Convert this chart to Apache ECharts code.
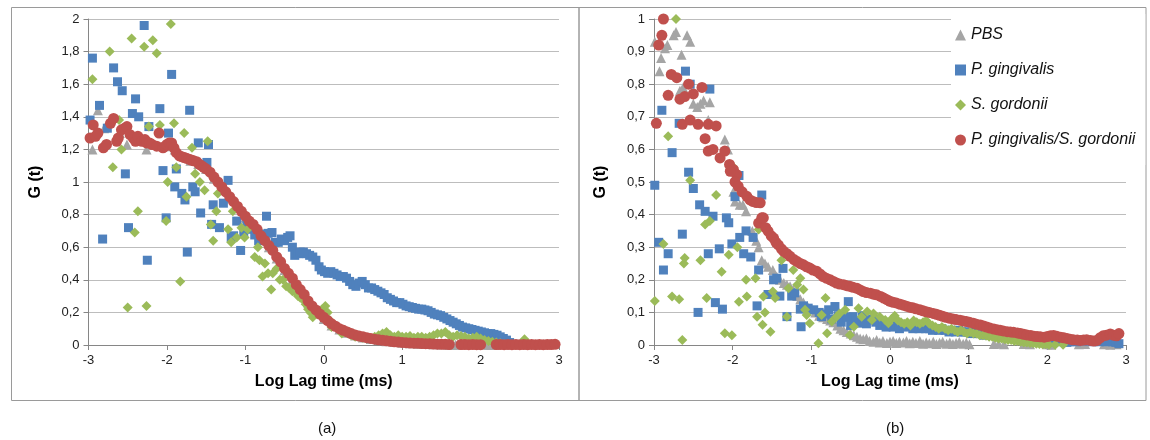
<!DOCTYPE html>
<html>
<head>
<meta charset="utf-8">
<script src="https://cdn.jsdelivr.net/npm/echarts@6/dist/echarts.min.js"></script>
<style>
html,body{margin:0;padding:0;background:#fff;}
#c{width:1150px;height:440px;}
</style>
</head>
<body>
<div id="c"></div>
<script>
// Series names
const seriesNames = ['PBS', 'P. gingivalis', 'S. gordonii', 'P. gingivalis/S. gordonii'];

// ---------- Panel (a): [log lag time, G(t)] ----------
const pbsA = [[-2.95,1.20],[-2.88,1.44],[-2.80,1.33],[-2.60,1.30],[-2.51,1.23],[-2.26,1.20],
[-2.0,1.22],[-1.9,1.2],[-1.8,1.16],[-1.7,1.13],[-1.6,1.11],[-1.5,1.08],[-1.4,1.02],[-1.3,0.96],[-1.2,0.9],[-1.1,0.84],[-1.0,0.78],[-0.9,0.73],[-0.8,0.66],[-0.7,0.6],[-0.6,0.53],[-0.5,0.46],[-0.4,0.4],[-0.3,0.33],[-0.2,0.26],[-0.1,0.21],[0.0,0.16],[0.1,0.12],[0.2,0.095],[0.3,0.075],[0.4,0.058],[0.5,0.046],[0.6,0.037],[0.7,0.03],[0.8,0.023],[0.9,0.018],[1.0,0.014],[1.1,0.01],[1.2,0.008],[1.3,0.006],[1.4,0.004],[1.5,0.003],[1.6,0.002],[1.64,0.001],[1.68,0.002],[1.72,0.001],[2.06,0.001],[2.10,0.002],[2.14,0.001],[2.18,0.002]];

const pgA = [[-2.98,1.38],[-2.95,1.76],[-2.86,1.47],[-2.82,0.65],[-2.76,1.33],[-2.68,1.70],[-2.63,1.615],[-2.57,1.56],[-2.53,1.05],[-2.49,0.72],[-2.44,1.42],[-2.40,1.51],[-2.36,1.40],[-2.29,1.96],[-2.25,0.52],[-2.23,1.34],[-2.09,1.45],[-2.05,1.07],[-2.01,0.78],[-1.98,1.30],[-1.94,1.66],[-1.90,0.97],[-1.88,1.08],[-1.81,0.93],[-1.77,0.89],[-1.74,0.57],[-1.71,1.44],[-1.67,0.97],[-1.64,0.94],[-1.60,1.24],[-1.57,0.81],[-1.49,1.12],[-1.47,1.23],[-1.43,0.74],[-1.41,0.86],[-1.33,0.72],[-1.28,0.87],[-1.22,1.01],[-1.18,0.66],[-1.15,0.67],[-1.11,0.76],[-1.06,0.58],[-1.02,0.69],[-0.98,0.74],[-0.92,0.71],[-0.88,0.675],[-0.83,0.64],[-0.78,0.68],[-0.73,0.79],[-0.71,0.685],[-0.66,0.69],[-0.62,0.63],
[-0.58,0.63],[-0.54,0.65],[-0.50,0.64],[-0.46,0.66],[-0.43,0.67],[-0.40,0.60],[-0.37,0.55],[-0.33,0.56],[-0.30,0.57],[-0.26,0.57],[-0.22,0.56],[-0.18,0.55],[-0.14,0.54],[-0.10,0.52],[-0.06,0.48],[-0.03,0.46],[0.01,0.45],[0.05,0.44],[0.09,0.45],[0.13,0.44],[0.17,0.43],[0.21,0.42],[0.25,0.42],[0.29,0.41],[0.33,0.39],[0.37,0.37],[0.41,0.36],[0.45,0.38],[0.49,0.39],[0.53,0.37],[0.57,0.35],[0.61,0.35],[0.65,0.34],[0.69,0.33],[0.73,0.32],[0.77,0.31],[0.81,0.29],[0.85,0.28],[0.89,0.27],[0.93,0.26],[0.97,0.26],[1.01,0.25],[1.05,0.24],[1.09,0.235],[1.13,0.23],[1.17,0.225],[1.21,0.22],[1.25,0.22],[1.29,0.215],[1.33,0.21],[1.37,0.20],[1.41,0.19],[1.45,0.185],[1.49,0.18],[1.53,0.17],[1.57,0.16],[1.61,0.15],[1.65,0.14],[1.69,0.13],[1.73,0.12],[1.77,0.11],[1.81,0.105],[1.85,0.10],[1.89,0.095],[1.93,0.09],[1.97,0.085],[2.01,0.08],[2.05,0.075],[2.09,0.07],[2.13,0.07],[2.17,0.065],[2.21,0.06],[2.25,0.05],[2.29,0.04],[2.33,0.03],[2.37,0.015],[2.41,0.005],[2.45,0.003],[2.55,0.002],[2.65,0.003],[2.75,0.002],[2.85,0.003]];

const sgA = [[-2.95,1.63],[-2.73,1.80],[-2.45,1.88],[-2.29,1.83],[-2.18,1.87],[-2.13,1.79],[-1.95,1.97],[-2.61,1.38],[-2.23,1.34],[-2.09,1.35],[-1.91,1.36],[-1.78,1.30],[-1.48,1.25],[-1.68,1.21],[-2.58,1.20],[-2.69,1.09],[-1.88,1.09],[-1.64,1.05],[-1.99,1.00],[-1.58,1.00],[-1.52,0.95],[-1.75,0.91],[-1.35,0.93],[-2.37,0.82],[-2.41,0.69],[-2.01,0.76],[-1.37,0.82],[-1.44,0.74],[-1.41,0.64],[-1.22,0.71],[-1.16,0.82],[-1.18,0.63],[-1.11,0.66],[-1.01,0.66],[-1.05,0.72],[-0.97,0.71],[-0.88,0.54],[-0.84,0.60],[-0.82,0.52],[-0.75,0.50],[-0.78,0.42],[-0.71,0.44],[-0.67,0.34],[-1.83,0.39],[-2.50,0.23],[-2.26,0.24],
[-0.65,0.44],[-0.60,0.47],[-0.56,0.40],[-0.52,0.40],[-0.48,0.36],[-0.44,0.35],[-0.40,0.33],[-0.37,0.33],[-0.33,0.30],[-0.30,0.29],[-0.27,0.28],[-0.23,0.25],[-0.20,0.22],[-0.17,0.20],[-0.14,0.17],[-0.10,0.19],[-0.06,0.21],[-0.02,0.22],[0.02,0.24],[0.05,0.20],[0.08,0.15],[0.10,0.11],[0.14,0.12],[0.18,0.10],[0.23,0.07],[0.27,0.08],[0.31,0.07],[0.35,0.06],[0.40,0.05],[0.45,0.05],[0.50,0.045],[0.55,0.04],[0.60,0.04],[0.65,0.05],[0.70,0.06],[0.75,0.07],[0.80,0.08],[0.85,0.06],[0.90,0.05],[0.95,0.06],[1.00,0.05],[1.05,0.05],[1.10,0.055],[1.15,0.045],[1.20,0.05],[1.25,0.05],[1.30,0.045],[1.35,0.05],[1.40,0.06],[1.45,0.07],[1.50,0.07],[1.55,0.08],[1.60,0.06],[1.65,0.05],[1.70,0.06],[1.75,0.055],[1.80,0.05],[1.85,0.04],[1.90,0.045],[1.95,0.05],[2.00,0.04],[2.05,0.03],[2.10,0.025],[2.15,0.02],[2.20,0.015],[2.25,0.01],[2.30,0.005],[2.35,0.004],[2.56,0.035],[2.60,0.01]];

const mixA = [[-2.98,1.27],[-2.94,1.35],[-2.91,1.28],[-2.88,1.30],[-2.81,1.21],[-2.77,1.23],[-2.72,1.36],[-2.68,1.39],[-2.64,1.25],[-2.62,1.27],[-2.58,1.32],[-2.54,1.33],[-2.51,1.34],[-2.47,1.29],[-2.43,1.27],[-2.40,1.25],[-2.37,1.28],[-2.32,1.25],[-2.28,1.26],[-2.26,1.24],[-2.22,1.24],[-2.19,1.23],[-2.13,1.22],[-2.10,1.30],[-2.05,1.21],[-2.02,1.22],[-2.00,1.23],[-1.97,1.24],[-1.94,1.24],[-1.91,1.21],[-1.88,1.18],[-1.84,1.16],[-1.81,1.155],[-1.78,1.15],[-1.75,1.145],[-1.72,1.14],[-1.69,1.135],[-1.66,1.13],[-1.62,1.125],[-1.59,1.11],[-1.56,1.10],[-1.53,1.09],
[-1.50,1.08],[-1.45,1.06],[-1.40,1.03],[-1.35,1.00],[-1.30,0.97],[-1.25,0.94],[-1.20,0.91],[-1.15,0.88],[-1.10,0.85],[-1.05,0.82],
[-1.00,0.79],[-0.95,0.76],[-0.90,0.74],[-0.85,0.71],[-0.80,0.67],[-0.75,0.64],[-0.70,0.61],[-0.65,0.58],[-0.60,0.54],[-0.55,0.51],
[-0.50,0.47],[-0.45,0.44],[-0.40,0.41],[-0.35,0.37],[-0.30,0.34],[-0.25,0.31],[-0.20,0.27],[-0.15,0.24],[-0.10,0.215],[-0.05,0.19],
[0.00,0.17],[0.05,0.15],[0.10,0.13],[0.15,0.115],[0.20,0.10],[0.25,0.09],[0.30,0.08],[0.35,0.07],[0.40,0.062],[0.45,0.055],
[0.50,0.05],[0.55,0.045],[0.60,0.04],[0.65,0.036],[0.70,0.032],[0.75,0.029],[0.80,0.026],[0.85,0.023],[0.90,0.02],[0.95,0.018],
[1.00,0.016],[1.05,0.014],[1.10,0.012],[1.15,0.011],[1.20,0.01],[1.25,0.009],[1.30,0.008],[1.35,0.007],[1.40,0.006],[1.45,0.005],
[1.50,0.004],[1.55,0.004],[1.60,0.003],[1.75,0.003],[1.80,0.003],[1.85,0.002],[1.90,0.003],[1.95,0.002],
[2.00,0.002],[2.20,0.003],[2.25,0.003],[2.30,0.002],[2.35,0.003],[2.40,0.002],[2.45,0.003],
[2.50,0.002],[2.55,0.003],[2.60,0.002],[2.65,0.003],[2.70,0.002],[2.75,0.003],[2.80,0.002],[2.85,0.003],[2.90,0.003],[2.95,0.004]];

// ---------- Panel (b) ----------
const pbsB = [[-2.99,0.93],[-2.93,0.84],[-2.91,0.88],[-2.86,0.91],[-2.83,0.92],[-2.75,0.95],[-2.72,0.96],[-2.65,0.89],[-2.58,0.95],[-2.54,0.93],[-2.67,0.78],[-2.63,0.79],[-2.50,0.74],[-2.45,0.73],[-2.41,0.74],[-2.37,0.75],[-2.29,0.745],[-2.31,0.69],[-2.10,0.63],[-2.06,0.60],[-2.02,0.55],[-1.99,0.47],[-1.97,0.44],[-1.91,0.43],[-1.87,0.43],[-1.83,0.41],[-1.75,0.35],[-1.70,0.32],[-1.67,0.30],[-1.63,0.26],[-1.59,0.25],[-1.55,0.24],[-1.49,0.23],[-1.44,0.21],[-1.40,0.20],[-1.35,0.19],[-1.31,0.185],[-1.27,0.18],[-1.23,0.17],[-1.18,0.15],[-1.14,0.14],[-1.10,0.13],[-1.05,0.12],[-1.00,0.11],[-0.95,0.10],[-0.90,0.09],[-0.85,0.085],[-0.80,0.08],[-0.76,0.075],[-0.72,0.07],[-0.67,0.06],[-0.63,0.05],[-0.59,0.045],[-0.55,0.04],[-0.50,0.035],[-0.46,0.03],[-0.42,0.025],[-0.38,0.02],[-0.34,0.018],[-0.30,0.02],[-0.26,0.012],[-0.21,0.01],[-0.17,0.015],[-0.13,0.008],[-0.09,0.012],[-0.04,0.006],[0.00,0.01],[0.04,0.012],[0.08,0.006],[0.12,0.01],[0.17,0.008],[0.21,0.012],[0.25,0.005],[0.29,0.01],[0.33,0.006],[0.38,0.012],[0.42,0.004],[0.46,0.008],[0.50,0.005],[0.55,0.01],[0.59,0.003],[0.63,0.007],[0.67,0.01],[0.72,0.004],[0.76,0.008],[0.80,0.003],[0.84,0.006],[0.88,0.009],[0.93,0.004],[0.97,0.007],[1.01,0.002],[1.32,0.003],[1.38,0.004],[1.45,0.002],[1.70,0.003],[1.78,0.002],[2.00,0.002],[2.05,0.001],[2.40,0.002],[2.48,0.003],[2.72,0.002],[2.80,0.001],[2.88,0.002]];

const pgB = [[-2.90,0.72],[-2.60,0.84],[-2.54,0.80],[-2.29,0.785],[-2.68,0.68],[-2.77,0.59],[-2.56,0.53],[-2.99,0.49],[-2.94,0.315],[-2.82,0.28],[-2.88,0.23],[-2.50,0.48],[-2.42,0.43],[-2.35,0.41],[-2.25,0.395],[-2.64,0.34],[-2.31,0.28],[-2.17,0.295],[-2.44,0.10],[-2.22,0.13],[-2.13,0.11],[-2.08,0.39],[-2.05,0.375],[-2.01,0.31],[-1.97,0.455],[-1.92,0.52],[-1.91,0.33],[-1.86,0.28],[-1.83,0.35],[-1.74,0.33],[-1.77,0.27],[-1.67,0.23],[-1.63,0.46],[-1.69,0.12],[-1.55,0.155],[-1.48,0.20],[-1.44,0.205],[-1.36,0.235],[-1.40,0.15],[-1.31,0.087],[-1.25,0.15],[-1.21,0.16],[-1.14,0.11],[-1.10,0.12],[-1.04,0.113],[-0.97,0.108],[-1.13,0.056],[-0.87,0.087],[-0.78,0.108],[-0.70,0.118],[-0.53,0.133],[-0.59,0.087],[-0.47,0.087],[-0.38,0.067],[-0.26,0.077],[-0.13,0.06],
[-0.90,0.10],[-0.82,0.095],[-0.74,0.08],[-0.66,0.09],[-0.62,0.07],[-0.55,0.085],[-0.50,0.06],[-0.43,0.075],[-0.35,0.09],[-0.30,0.065],[-0.22,0.08],[-0.18,0.07],[-0.09,0.065],[-0.05,0.055],[0.00,0.06],[0.04,0.055],[0.08,0.065],[0.12,0.05],[0.16,0.06],[0.20,0.055],[0.25,0.06],[0.29,0.05],[0.33,0.055],[0.37,0.05],[0.41,0.055],[0.45,0.05],[0.50,0.05],[0.54,0.045],[0.58,0.05],[0.62,0.045],[0.66,0.05],[0.70,0.045],[0.75,0.04],[0.79,0.045],[0.83,0.04],[0.87,0.045],[0.91,0.04],[0.95,0.04],[1.00,0.04],[1.04,0.035],[1.08,0.04],[1.12,0.035],[1.16,0.035],[1.20,0.03],[1.25,0.035],[1.29,0.03],[1.33,0.03],[1.37,0.03],[1.41,0.025],[1.45,0.03],[1.50,0.025],[1.54,0.025],[1.58,0.02],[1.62,0.025],[1.66,0.02],[1.70,0.02],[1.75,0.02],[1.79,0.015],[1.83,0.02],[1.87,0.015],[1.91,0.015],[1.95,0.015],[2.00,0.012],[2.04,0.015],[2.08,0.01],[2.12,0.012],[2.16,0.01],[2.20,0.012],[2.25,0.008],[2.29,0.01],[2.33,0.012],[2.37,0.01],[2.41,0.015],[2.45,0.012],[2.50,0.015],[2.54,0.012],[2.58,0.01],[2.62,0.012],[2.66,0.01],[2.70,0.012],[2.75,0.01],[2.79,0.015],[2.83,0.01],[2.87,0.008],[2.91,0.004]];

const sgB = [[-2.72,1.0],[-2.82,0.64],[-2.54,0.505],[-2.21,0.46],[-1.99,0.545],[-2.99,0.135],[-2.88,0.31],[-2.77,0.149],[-2.68,0.14],[-2.64,0.015],[-2.61,0.267],[-2.62,0.25],[-2.41,0.26],[-2.35,0.37],[-2.29,0.38],[-2.33,0.144],[-2.14,0.225],[-2.10,0.036],[-2.01,0.03],[-2.05,0.277],[-1.94,0.30],[-1.92,0.133],[-1.83,0.20],[-1.82,0.149],[-1.71,0.205],[-1.69,0.087],[-1.62,0.062],[-1.59,0.10],[-1.67,0.354],[-1.61,0.149],[-1.52,0.041],[-1.49,0.164],[-1.46,0.144],[-1.38,0.26],[-1.31,0.087],[-1.29,0.174],[-1.23,0.23],[-1.18,0.185],[-1.14,0.205],[-1.10,0.17],[-1.08,0.108],[-1.06,0.092],[-1.02,0.067],[-0.91,0.005],[-0.87,0.092],[-0.82,0.144],[-0.80,0.036],[-0.74,0.072],[-0.68,0.087],[-0.64,0.097],[-0.57,0.108],[-0.51,0.031],[-0.46,0.056],[-0.40,0.113],[-0.36,0.087],[-0.29,0.103],[-0.23,0.077],[-0.21,0.097],[-0.13,0.087],[-0.06,0.077],[-0.02,0.067],
[0.02,0.08],[0.06,0.09],[0.10,0.075],[0.14,0.07],[0.18,0.065],[0.22,0.07],[0.26,0.06],[0.30,0.075],[0.34,0.07],[0.38,0.065],[0.42,0.07],[0.46,0.075],[0.50,0.065],[0.54,0.06],[0.58,0.055],[0.62,0.05],[0.66,0.055],[0.70,0.05],[0.74,0.045],[0.78,0.05],[0.82,0.045],[0.86,0.04],[0.90,0.045],[0.94,0.04],[0.98,0.035],[1.02,0.04],[1.06,0.035],[1.10,0.035],[1.14,0.03],[1.18,0.03],[1.22,0.028],[1.26,0.025],[1.30,0.025],[1.34,0.022],[1.38,0.02],[1.42,0.02],[1.46,0.018],[1.50,0.015],[1.54,0.015],[1.58,0.012],[1.62,0.012],[1.66,0.01],[1.70,0.008],[1.74,0.008],[1.78,0.006],[1.82,0.005],[1.86,0.004],[1.90,0.003],[1.94,0.002],[1.98,0.002],[2.02,0.001],[2.10,0.001],[2.20,0.001]];

const mixB = [[-2.88,1.0],[-2.90,0.95],[-2.94,0.92],[-2.97,0.68],[-2.82,0.766],[-2.78,0.83],[-2.71,0.82],[-2.67,0.754],[-2.61,0.762],[-2.56,0.80],[-2.50,0.77],[-2.39,0.79],[-2.64,0.677],[-2.54,0.69],[-2.44,0.677],[-2.31,0.677],[-2.21,0.672],[-2.35,0.633],[-2.31,0.595],[-2.25,0.60],[-2.16,0.574],[-2.10,0.595],[-2.04,0.554],[-1.99,0.538],[-1.95,0.523],[-2.03,0.533],[-1.97,0.50],[-1.93,0.487],[-1.88,0.47],[-1.82,0.456],[-1.78,0.445],[-1.74,0.44],[-1.70,0.437],[-1.65,0.436],[-1.67,0.374],[-1.63,0.39],[-1.61,0.39],[-1.58,0.36],[-1.55,0.349],[-1.51,0.335],[-1.48,0.328],[-1.45,0.315],[-1.42,0.307],[-1.38,0.295],[-1.35,0.287],[-1.31,0.28],[-1.27,0.272],[-1.22,0.262],[-1.18,0.256],[-1.14,0.25],[-1.10,0.246],[-1.06,0.24],[-1.02,0.236],[-0.98,0.23],[-0.93,0.226],[-0.89,0.218],[-0.85,0.21],[-0.81,0.205],[-0.76,0.20],[-0.72,0.195],[-0.68,0.19],[-0.64,0.187],[-0.59,0.185],[-0.55,0.182],[-0.51,0.18],[-0.47,0.177],[-0.42,0.174],[-0.38,0.169],[-0.34,0.164],[-0.30,0.161],[-0.25,0.159],[-0.21,0.156],[-0.17,0.154],[-0.12,0.149],[-0.08,0.144],[-0.04,0.139],[0.00,0.134],[0.04,0.131],[0.08,0.129],[0.13,0.125],[0.17,0.122],[0.21,0.119],[0.25,0.116],[0.29,0.114],[0.33,0.111],[0.38,0.108],[0.42,0.105],[0.46,0.102],[0.50,0.10],[0.55,0.097],[0.59,0.094],[0.63,0.091],[0.67,0.088],[0.71,0.085],[0.76,0.082],[0.80,0.08],[0.84,0.078],[0.89,0.076],[0.93,0.074],[0.97,0.072],[1.01,0.07],[1.06,0.067],[1.10,0.064],[1.15,0.061],[1.19,0.058],[1.23,0.055],[1.27,0.052],[1.32,0.049],[1.36,0.047],[1.40,0.045],[1.44,0.043],[1.49,0.041],[1.53,0.04],[1.57,0.039],[1.62,0.037],[1.66,0.035],[1.70,0.033],[1.74,0.031],[1.79,0.029],[1.83,0.027],[1.87,0.026],[1.91,0.025],[1.96,0.024],[2.00,0.026],[2.04,0.028],[2.08,0.029],[2.12,0.027],[2.17,0.024],[2.21,0.022],[2.25,0.02],[2.29,0.018],[2.33,0.016],[2.38,0.015],[2.42,0.014],[2.46,0.015],[2.50,0.016],[2.55,0.014],[2.59,0.012],[2.63,0.014],[2.67,0.022],[2.71,0.028],[2.75,0.03],[2.80,0.034],[2.84,0.03],[2.88,0.028],[2.91,0.035]];

const xTitle = 'Log Lag time (ms)';
const yTitle = 'G (t)';
const captions = ['(a)', '(b)'];

// ---------- styles ----------
const FONT = 'Liberation Sans, Arial, Helvetica, sans-serif';
const colors = ['#A5A5A5', '#4F81BD', '#9BBB59', '#C0504D'];
const symbols = ['triangle', 'rect', 'diamond', 'circle'];
const sizes = [10, 9, 10, 11];

function fmt(v){ return String(Math.round(v*10)/10).replace('.', ','); }

function xAx(gi){
  return {
    gridIndex: gi, type: 'value', min: -3, max: 3, interval: 1,
    name: xTitle, nameLocation: 'middle', nameGap: 29,
    nameTextStyle: {fontFamily: FONT, fontSize: 16, fontWeight: 'bold', color: '#000'},
    axisLine: {show: true, onZero: false, lineStyle: {color: '#868686', width: 1}},
    axisTick: {show: true, inside: false, length: 5, lineStyle: {color: '#868686'}},
    axisLabel: {fontFamily: FONT, fontSize: 13, color: '#222', margin: 9},
    splitLine: {show: false}
  };
}
function yAx(gi, max, interval){
  return {
    gridIndex: gi, type: 'value', min: 0, max: max, interval: interval,
    name: yTitle, nameLocation: 'middle', nameGap: 45, nameRotate: 90,
    nameTextStyle: {fontFamily: FONT, fontSize: 16, fontWeight: 'bold', color: '#000'},
    axisLine: {show: true, onZero: false, lineStyle: {color: '#868686', width: 1}},
    axisTick: {show: true, inside: false, length: 5, lineStyle: {color: '#868686'}},
    axisLabel: {fontFamily: FONT, fontSize: 13, color: '#222', margin: 9, formatter: fmt},
    splitLine: {show: true, lineStyle: {color: '#bdbdbd', width: 1}}
  };
}

const panelA = [pbsA, pgA, sgA, mixA];
const panelB = [pbsB, pgB, sgB, mixB];
const series = [];
[panelA, panelB].forEach(function(panel, gi){
  panel.forEach(function(data, k){
    series.push({
      type: 'scatter', name: seriesNames[k], xAxisIndex: gi, yAxisIndex: gi,
      data: data, symbol: symbols[k], symbolSize: sizes[k],
      itemStyle: {color: colors[k], opacity: 1},
      emphasis: {disabled: true}, silent: true, clip: false, z: 2 + k
    });
  });
});

const chart = echarts.init(document.getElementById('c'));
chart.setOption({
  animation: false,
  backgroundColor: '#fff',
  grid: [
    {left: 88.5, top: 19, width: 470.5, height: 326},
    {left: 654, top: 19, width: 472, height: 326}
  ],
  xAxis: [xAx(0), xAx(1)],
  yAxis: [yAx(0, 2, 0.2), yAx(1, 1, 0.1)],
  legend: {
    orient: 'vertical', left: 951, top: 14,
    padding: [12, 10, 16, 4], itemGap: 17, itemWidth: 11, itemHeight: 11,
    backgroundColor: '#fff', z: 20, selectedMode: false,
    textStyle: {fontFamily: FONT, fontSize: 16, fontStyle: 'italic', color: '#111', lineHeight: 18},
    data: seriesNames.map(function(n, k){ return {name: n, icon: symbols[k], itemStyle: {color: colors[k]}}; })
  },
  graphic: [
    {type: 'rect', shape: {x: 11.5, y: 7.5, width: 567.5, height: 393}, style: {fill: 'none', stroke: '#9a9a9a', lineWidth: 1}, silent: true},
    {type: 'rect', shape: {x: 579, y: 7.5, width: 567, height: 393}, style: {fill: 'none', stroke: '#9a9a9a', lineWidth: 1}, silent: true},
    {type: 'text', left: 318, top: 421, style: {text: captions[0], font: '15px ' + FONT, fill: '#111'}},
    {type: 'text', left: 886, top: 421, style: {text: captions[1], font: '15px ' + FONT, fill: '#111'}}
  ],
  series: series
});
</script>
</body>
</html>
